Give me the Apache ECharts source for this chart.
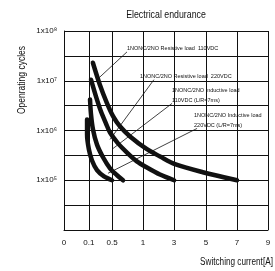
<!DOCTYPE html>
<html>
<head>
    <meta charset="utf-8" />
    <script src="https://cdn.jsdelivr.net/npm/echarts@6/dist/echarts.min.js"></script>
    <style>
        html, body { margin: 0; padding: 0; background: #fff; }
        #main { width: 275px; height: 271px; }
    </style>
</head>
<body>
    <div id="main"></div>
    <script>
        // x tick labels (A) and where they sit on the uneven axis
        var xTickLabels = [0, 0.1, 0.5, 1, 3, 5, 7, 9]
        var xTickPos = [0, 0.8, 1.55, 2.55, 3.55, 4.58, 5.58, 6.58]

        // curves: switching current (A) / operating cycles
        var res110Amps = [0.17, 0.29, 0.41, 0.52, 0.63, 0.79, 1.25, 2.1, 3.06, 4.8, 7]
        var res110Cycles = [2.3e7, 8.3e6, 3.6e6, 1.9e6, 1.2e6, 7.6e5, 4.2e5, 3.0e5, 2.1e5, 1.45e5, 1e5]

        var res220Amps = [0.138, 0.224, 0.31, 0.396, 0.465, 0.596, 0.741, 0.9, 1.25, 2.09, 3]
        var res220Cycles = [1.05e7, 4.8e6, 2.4e6, 1.38e6, 9.1e5, 5.5e5, 3.6e5, 2.4e5, 1.8e5, 1.3e5, 1e5]

        var ind110Amps = [0.121, 0.138, 0.172, 0.241, 0.344, 0.465, 0.58, 0.677]
        var ind110Cycles = [4.2e6, 2.1e6, 1.05e6, 5.2e5, 2.9e5, 1.74e5, 1.26e5, 1e5]

        var ind220Amps = [0.093, 0.093, 0.101, 0.155, 0.241, 0.361, 0.5]
        var ind220Cycles = [1.66e6, 8.3e5, 4.2e5, 2.5e5, 1.6e5, 1.2e5, 1e5]

        // leader lines: [label end, curve end] in A / cycles
        var leaderTexts = [
            '1NONC/2NO Resistive load  110VDC',
            '1NONC/2NO Resistive load  220VDC',
            '1NONC/2NO Inductive load\n110VDC (L/R=7ms)',
            '1NONC/2NO Inductive load\n220VDC (L/R=7ms)'
        ]
        var leaderAmps = [[0.741, 0.241], [1.7, 0.465], [2.87, 0.5], [4.44, 0.43]]
        var leaderCycles = [[3.8e7, 1.05e7], [1.05e7, 6.6e5], [3.5e6, 4.2e5], [1.1e6, 1.38e5]]
        var leaderShift = [0, -14, 0, -3]

        var FONT = "'Liberation Sans', Arial, sans-serif"

        // piecewise map amps -> axis position
        function toPos(a) {
            for (var i = 0; i < xTickLabels.length - 1; i++) {
                if (a <= xTickLabels[i + 1]) {
                    var t = (a - xTickLabels[i]) / (xTickLabels[i + 1] - xTickLabels[i])
                    return xTickPos[i] + t * (xTickPos[i + 1] - xTickPos[i])
                }
            }
            return xTickPos[xTickPos.length - 1]
        }
        function pts(amps, cycles) {
            return amps.map(function (a, i) { return [toPos(a), Math.log10(cycles[i])] })
        }
        var sup = { '4': '\u2074', '5': '\u2075', '6': '\u2076', '7': '\u2077', '8': '\u2078' }

        var series = []
        var curves = [
            [res110Amps, res110Cycles],
            [res220Amps, res220Cycles],
            [ind110Amps, ind110Cycles],
            [ind220Amps, ind220Cycles]
        ]
        curves.forEach(function (c) {
            series.push({
                type: 'line',
                data: pts(c[0], c[1]),
                smooth: 0.3,
                symbol: 'none',
                lineStyle: { color: '#111', width: 4.5, cap: 'round' },
                z: 3
            })
        })
        leaderTexts.forEach(function (txt, k) {
            var p = pts(leaderAmps[k], leaderCycles[k])
            series.push({
                type: 'line',
                symbol: 'circle',
                symbolSize: 0,
                showSymbol: true,
                lineStyle: { color: '#111', width: 0.8 },
                data: [
                    {
                        value: p[0],
                        label: {
                            show: true,
                            formatter: txt,
                            position: 'top',
                            align: 'left',
                            offset: [leaderShift[k], 7],
                            color: '#111',
                            fontSize: 5.5,
                            lineHeight: 10,
                            fontFamily: FONT
                        }
                    },
                    p[1]
                ],
                z: 4
            })
        })

        var option = {
            animation: false,
            grid: { left: 64, right: 7, top: 31, bottom: 41, containLabel: false },
            xAxis: {
                type: 'value',
                min: 0,
                max: xTickPos[xTickPos.length - 1],
                axisLine: { show: true, lineStyle: { color: '#111', width: 1 } },
                axisTick: { show: false, customValues: xTickPos },
                splitLine: { show: true, lineStyle: { color: '#111', width: 1 } },
                axisLabel: {
                    customValues: xTickPos,
                    margin: 9,
                    color: '#111',
                    fontSize: 8,
                    fontFamily: FONT,
                    formatter: function (v) {
                        var best = 0
                        for (var i = 0; i < xTickPos.length; i++) {
                            if (Math.abs(xTickPos[i] - v) < Math.abs(xTickPos[best] - v)) best = i
                        }
                        return String(xTickLabels[best])
                    }
                }
            },
            yAxis: {
                type: 'value',
                min: 4,
                max: 8,
                interval: 0.5,
                axisLine: { show: true, lineStyle: { color: '#111', width: 1 } },
                axisTick: { show: false },
                splitLine: { show: true, lineStyle: { color: '#111', width: 1 } },
                axisLabel: {
                    margin: 7,
                    color: '#111',
                    fontSize: 8,
                    fontFamily: FONT,
                    formatter: function (v) {
                        if (v % 1 !== 0 || v < 5) return ''
                        return '1x10' + sup[String(v)]
                    }
                }
            },
            graphic: [
                {
                    type: 'text',
                    x: 166,
                    y: 15,
                    scaleX: 0.8,
                    style: {
                        text: 'Electrical endurance',
                        fontSize: 11,
                        fontFamily: FONT,
                        fill: '#111',
                        textAlign: 'center',
                        textVerticalAlign: 'middle'
                    }
                },
                {
                    type: 'text',
                    x: 22,
                    y: 80,
                    rotation: Math.PI / 2,
                    scaleX: 0.85,
                    style: {
                        text: 'Openrating cycles',
                        fontSize: 10,
                        fontFamily: FONT,
                        fill: '#111',
                        textAlign: 'center',
                        textVerticalAlign: 'middle'
                    }
                },
                {
                    type: 'text',
                    x: 200,
                    y: 262,
                    scaleX: 0.82,
                    style: {
                        text: 'Switching current[A]',
                        fontSize: 10,
                        fontFamily: FONT,
                        fill: '#111',
                        textAlign: 'left',
                        textVerticalAlign: 'middle'
                    }
                }
            ],
            series: series
        }

        var chart = echarts.init(document.getElementById('main'))
        chart.setOption(option)
        window.addEventListener('resize', function () {
            chart.resize()
        })
    </script>
</body>
</html>
